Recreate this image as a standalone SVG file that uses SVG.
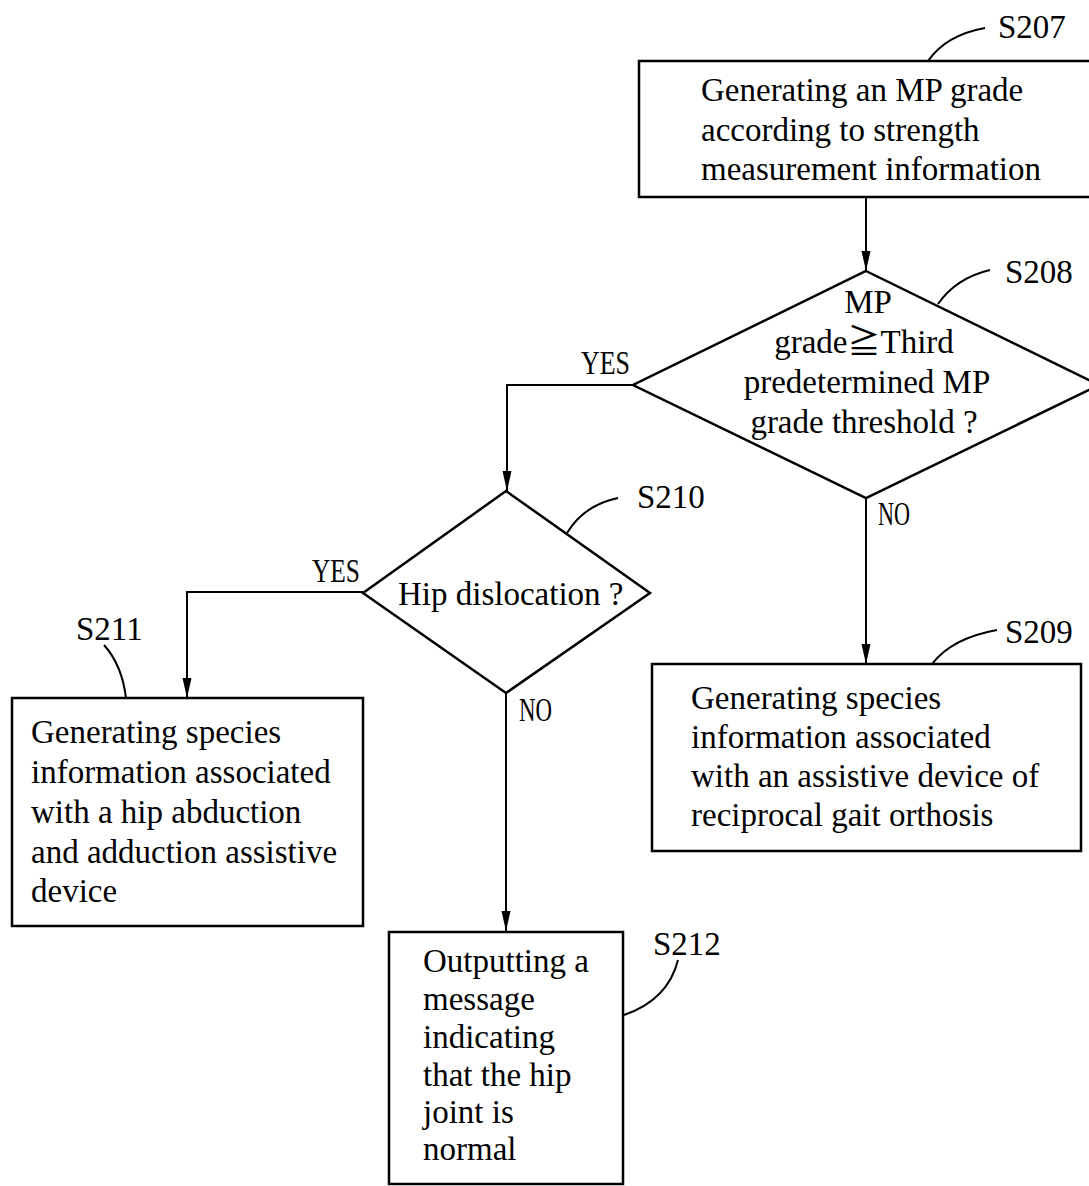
<svg xmlns="http://www.w3.org/2000/svg" width="1089" height="1186" viewBox="0 0 1089 1186">
<style>
.box{fill:#fff;stroke:#000;stroke-width:2.5}
.dia{fill:#fff;stroke:#000;stroke-width:2.5}
.con{fill:none;stroke:#000;stroke-width:2}
.lead{fill:none;stroke:#000;stroke-width:2}
.t{font-family:"Liberation Serif","DejaVu Serif","Noto Sans CJK SC",serif;font-size:33px;fill:#000}
.lbl{font-family:"Liberation Serif","DejaVu Serif",serif;font-size:33px;fill:#000}
.yn{font-family:"Liberation Serif","DejaVu Serif",serif;font-size:34px;fill:#000}
</style>
<defs>
<marker id="arr" markerUnits="userSpaceOnUse" markerWidth="20" markerHeight="10" refX="20" refY="5" orient="auto">
<path d="M0,0.5 L20,5 L0,9.5 z" fill="#000"/>
</marker>
</defs>
<g id="connectors">
<path class="con" d="M866,197 L866,271" marker-end="url(#arr)"/>
<path class="con" d="M633,385 L507,385 L507,491" marker-end="url(#arr)"/>
<path class="con" d="M866,498 L866,664" marker-end="url(#arr)"/>
<path class="con" d="M363,592 L187,592 L187,698" marker-end="url(#arr)"/>
<path class="con" d="M506,693 L506,931" marker-end="url(#arr)"/>
<text class="yn" x="630" y="374" text-anchor="end" textLength="49" lengthAdjust="spacingAndGlyphs">YES</text>
<text class="yn" x="878" y="525" textLength="32" lengthAdjust="spacingAndGlyphs">NO</text>
<text class="yn" x="360" y="582" text-anchor="end" textLength="48" lengthAdjust="spacingAndGlyphs">YES</text>
<text class="yn" x="519" y="721" textLength="33" lengthAdjust="spacingAndGlyphs">NO</text>
</g>
<g id="S207">
<rect class="box" x="639" y="61" width="460" height="136"/>
<text class="t" x="701" y="101">Generating an MP grade</text>
<text class="t" x="701" y="141">according to strength</text>
<text class="t" x="701" y="180">measurement information</text>
<path class="lead" d="M928,61 Q946,35 985,28"/>
<text class="lbl" x="998" y="38">S207</text>
</g>
<g id="S208">
<polygon class="dia" points="866,271 1099,385 866,498 633,385"/>
<text class="t" x="868" y="313" text-anchor="middle">MP</text>
<text class="t" x="864" y="353" text-anchor="middle">grade≧Third</text>
<text class="t" x="867" y="393" text-anchor="middle">predetermined MP</text>
<text class="t" x="864" y="433" text-anchor="middle">grade threshold ?</text>
<path class="lead" d="M938,304 Q956,278 990,270"/>
<text class="lbl" x="1005" y="283">S208</text>
</g>
<g id="S209">
<rect class="box" x="652" y="664" width="429" height="187"/>
<text class="t" x="691" y="709">Generating species</text>
<text class="t" x="691" y="748">information associated</text>
<text class="t" x="691" y="787">with an assistive device of</text>
<text class="t" x="691" y="826">reciprocal gait orthosis</text>
<path class="lead" d="M932,664 Q952,638 997,630"/>
<text class="lbl" x="1005" y="643">S209</text>
</g>
<g id="S210">
<polygon class="dia" points="506,491 650,593 506,693 363,593"/>
<text class="t" x="398" y="605">Hip dislocation ?</text>
<path class="lead" d="M567,533 Q584,505 618,498"/>
<text class="lbl" x="637" y="508">S210</text>
</g>
<g id="S211">
<rect class="box" x="12" y="698" width="351" height="228"/>
<text class="t" x="31" y="743">Generating species</text>
<text class="t" x="31" y="783">information associated</text>
<text class="t" x="31" y="823">with a hip abduction</text>
<text class="t" x="31" y="863">and adduction assistive</text>
<text class="t" x="31" y="902">device</text>
<path class="lead" d="M104,645 Q122,665 126,698"/>
<text class="lbl" x="76" y="640">S211</text>
</g>
<g id="S212">
<rect class="box" x="389" y="932" width="234" height="252"/>
<text class="t" x="423" y="972">Outputting a</text>
<text class="t" x="423" y="1010">message</text>
<text class="t" x="423" y="1048">indicating</text>
<text class="t" x="423" y="1086">that the hip</text>
<text class="t" x="423" y="1123">joint is</text>
<text class="t" x="423" y="1160">normal</text>
<path class="lead" d="M624,1015 Q668,1000 678,960"/>
<text class="lbl" x="653" y="955">S212</text>
</g>
</svg>
